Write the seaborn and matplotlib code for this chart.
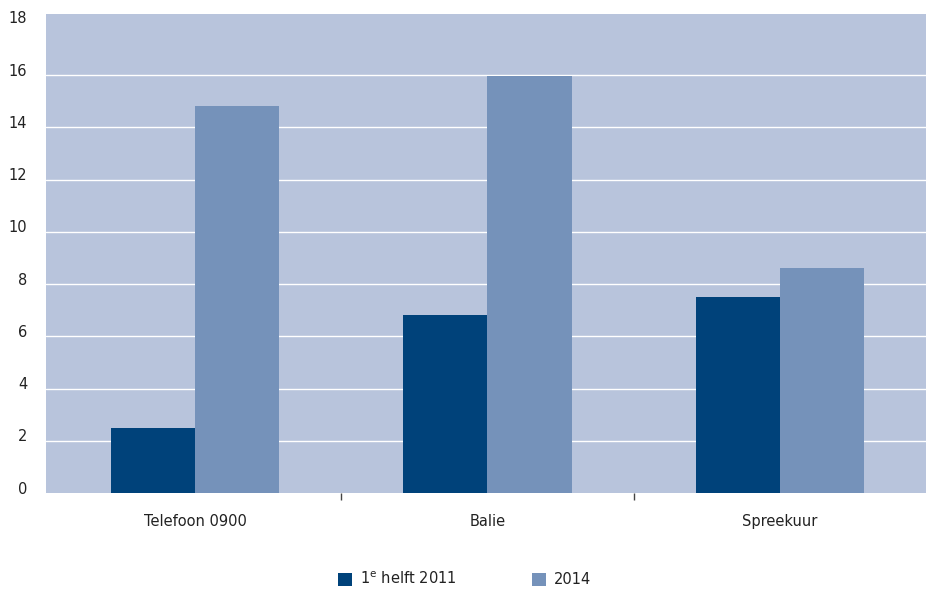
import matplotlib
matplotlib.use("Agg")
import matplotlib.pyplot as plt
import matplotlib.transforms as mtransforms
from matplotlib.patches import Patch
import seaborn as sns
import pandas as pd

categories = ["Telefoon 0900", "Balie", "Spreekuur"]
series_names = ["1$^{\\mathrm{e}}$ helft 2011", "2014"]
values_2011 = [2.5, 6.8, 7.5]
values_2014 = [14.8, 15.95, 8.6]
yticks = [0, 2, 4, 6, 8, 10, 12, 14, 16, 18]

colors = ["#00427A", "#7592BA"]
bg = "#B8C4DC"

df = pd.DataFrame({
    "cat": categories * 2,
    "serie": [series_names[0]] * 3 + [series_names[1]] * 3,
    "val": values_2011 + values_2014,
})

sns.set_theme(style="white")
plt.rcParams["font.family"] = ["DejaVu Sans"]

fig = plt.figure(figsize=(9.26, 5.9), dpi=100)
ax = fig.add_axes([46 / 926, 97 / 590, 880 / 926, 479 / 590])
ax.set_facecolor(bg)

sns.barplot(data=df, x="cat", y="val", hue="serie", palette=colors,
            width=0.575, saturation=1, dodge=True, legend=False, ax=ax,
            edgecolor="none", linewidth=0, zorder=3)

ax.set_ylim(0, 18.34)
ax.set_xlim(-0.51, 2.5)
ax.set_yticks(yticks)
ax.set_yticklabels([str(t) for t in yticks], fontsize=10.5, color="#222222")
ax.yaxis.grid(False)
for t in yticks[1:-1]:
    ax.axhline(t, color="white", linewidth=1.0, zorder=1)
for s in ax.spines.values():
    s.set_visible(False)

ax.tick_params(axis="y", length=0, pad=13.5)
for lab in ax.get_yticklabels():
    lab.set_transform(lab.get_transform() + mtransforms.ScaledTranslation(0, 5.5 / 100, fig.dpi_scale_trans))

ax.set_xticks([0, 1, 2])
ax.set_xticklabels(categories, fontsize=10.5, color="#222222")
ax.tick_params(axis="x", which="major", length=0, pad=15)
ax.set_xticks([0.5, 1.5], minor=True)
ax.tick_params(axis="x", which="minor", length=5, width=1, color="#444444", direction="out", bottom=True)
ax.set_xlabel("")
ax.set_ylabel("")

handles = [Patch(facecolor=colors[0], edgecolor="none"), Patch(facecolor=colors[1], edgecolor="none")]
fig.legend(handles, series_names, loc="center", bbox_to_anchor=(464.5 / 926, 1 - 579 / 590),
           ncol=2, frameon=False, fontsize=10.5, handlelength=0.96, handleheight=0.96,
           handletextpad=0.55, columnspacing=5.2, labelcolor="#222222")

fig.savefig("out.png", dpi=100, facecolor="white")
